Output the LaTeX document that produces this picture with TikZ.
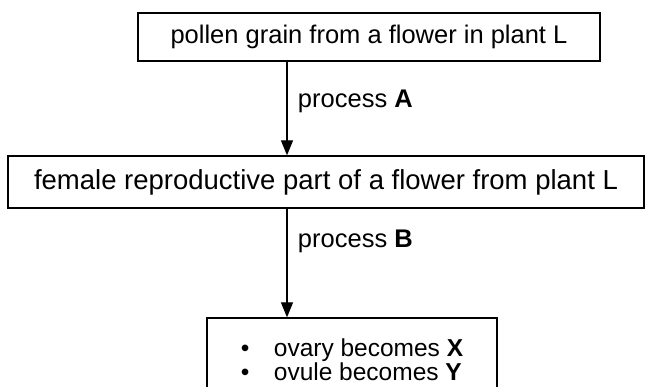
\documentclass[tikz,border=0pt]{standalone}
\usepackage{fontspec}
\setmainfont{Liberation Sans}
\usetikzlibrary{arrows.meta}
\tikzset{
  stagebox/.style={draw, line width=1.3pt, minimum height=48pt, inner sep=0pt},
  flow/.style={-{Triangle[length=15pt,width=12pt]}, line width=1.3pt}
}
\begin{document}
\begin{tikzpicture}[x=1pt, y=-1pt, font=\fontsize{25.5}{25.5}\selectfont]

  % page and clipping (the last box runs off the bottom)
  \useasboundingbox[fill=white] (0,0) rectangle (646,387);
  \clip (0,0) rectangle (646,387);

  % axis of the two arrows
  \coordinate (axis) at (287,0);

  % boxes
  \node[stagebox, minimum width=462pt] (pollen) at (369,37)
    {pollen grain from a flower in plant L};
  \node[stagebox, minimum width=636pt, minimum height=52pt,
        font=\fontsize{27.5}{27.5}\selectfont] (female) at (326,182)
    {female reproductive part of a flower from plant L};
  \node[stagebox, minimum width=290pt, minimum height=84pt, align=left,
        font=\fontsize{24.5}{24}\selectfont] (result) at (352,360)
    {\textbullet\hspace{1em}ovary becomes \textbf{X}\hspace{6pt}\\
     \textbullet\hspace{1em}ovule becomes \textbf{Y}\hspace{6pt}};

  % processes
  \draw[flow] (pollen.south -| axis) -- (female.north -| axis)
    node[pos=0.42, right=7pt] (procA) {process \textbf{A}};
  \draw[flow] (female.south -| axis) -- (result.north -| axis)
    node[pos=0.3, right=7pt] (procB) {process \textbf{B}};

\end{tikzpicture}
\end{document}
